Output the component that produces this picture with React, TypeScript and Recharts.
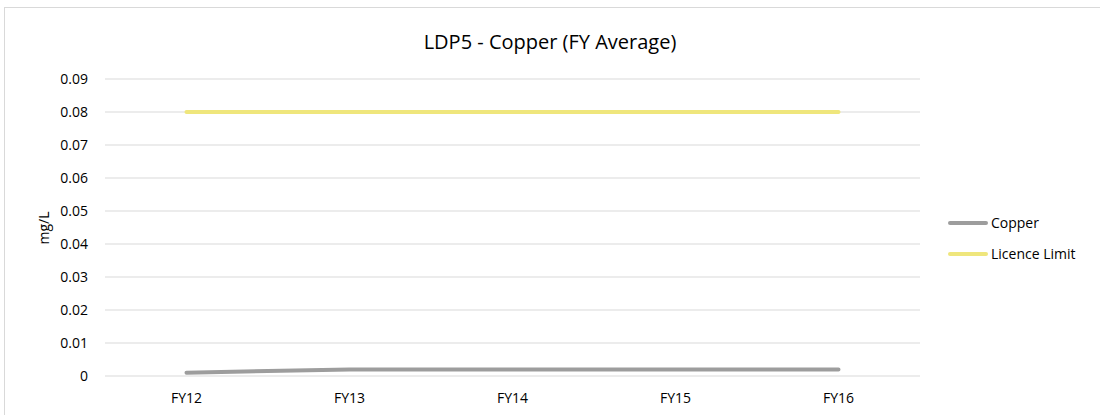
import { CartesianGrid, Label, Line, LineChart, XAxis, YAxis } from "recharts";

const years = ["FY12", "FY13", "FY14", "FY15", "FY16"];
const copper = [0.001, 0.002, 0.002, 0.002, 0.002];
const licenceLimit = [0.08, 0.08, 0.08, 0.08, 0.08];
const yTicks = [0, 0.01, 0.02, 0.03, 0.04, 0.05, 0.06, 0.07, 0.08, 0.09];

const data = years.map((fy, i) => ({
  fy,
  copper: copper[i],
  limit: licenceLimit[i],
}));

const FONT = "'Open Sans', sans-serif";
const COPPER = "#9d9d9d";
const LIMIT = "#efe67c";

// plot area spans 105..920 horizontally, half a category band of padding each side
const BAND_PAD = 81.5;

function LegendBox() {
  const items = [
    { label: "Copper", color: COPPER },
    { label: "Licence Limit", color: LIMIT },
  ];
  return (
    <div style={{ fontFamily: FONT, fontSize: 14, color: "#000" }}>
      {items.map((it) => (
        <div
          key={it.label}
          style={{ display: "flex", alignItems: "center", height: 31 }}
        >
          <span
            style={{
              display: "inline-block",
              width: 40,
              height: 4,
              borderRadius: 2,
              background: it.color,
              marginRight: 3,
            }}
          />
          <span>{it.label}</span>
        </div>
      ))}
    </div>
  );
}

export default function App() {
  return (
    <div
      style={{
        position: "fixed",
        left: 0,
        top: 0,
        width: 1100,
        height: 415,
        overflow: "hidden",
        background: "#fff",
      }}
    >
      {/* chart frame, runs off the right and bottom edge */}
      <div
        style={{
          position: "absolute",
          left: 4,
          top: 7,
          width: 1200,
          height: 500,
          border: "1px solid #d9d9d9",
        }}
      />
      <div
        style={{
          position: "absolute",
          left: 0,
          top: 28,
          width: 1100,
          textAlign: "center",
          fontFamily: FONT,
          fontSize: 20,
          color: "#000",
        }}
      >
        LDP5 - Copper (FY Average)
      </div>
      <div style={{ position: "absolute", left: 0, top: 0 }}>
        <LineChart
          width={1100}
          height={415}
          data={data}
          margin={{ top: 79, right: 180, bottom: 9, left: 0 }}
        >
          <CartesianGrid vertical={false} stroke="#d9d9d9" />
          <XAxis
            dataKey="fy"
            axisLine={false}
            tickLine={false}
            tickSize={0}
            tickMargin={17}
            height={30}
            padding={{ left: BAND_PAD, right: BAND_PAD }}
            tick={{ fill: "#000", fontSize: 14, fontFamily: FONT }}
          />
          <YAxis
            width={105}
            domain={[0, 0.09]}
            ticks={yTicks}
            interval={0}
            axisLine={false}
            tickLine={false}
            tickSize={0}
            tickMargin={17}
            tick={{ fill: "#000", fontSize: 14, fontFamily: FONT }}
          >
            <Label
              content={() => (
                <text
                  x={43}
                  y={228}
                  transform="rotate(-90 43 228)"
                  textAnchor="middle"
                  dominantBaseline="central"
                  fontFamily={FONT}
                  fontSize={14}
                  fill="#000"
                >
                  mg/L
                </text>
              )}
            />
          </YAxis>
          <Line
            dataKey="copper"
            name="Copper"
            stroke={COPPER}
            strokeWidth={4}
            strokeLinecap="round"
            dot={false}
            activeDot={false}
            isAnimationActive={false}
          />
          <Line
            dataKey="limit"
            name="Licence Limit"
            stroke={LIMIT}
            strokeWidth={4}
            strokeLinecap="round"
            dot={false}
            activeDot={false}
            isAnimationActive={false}
          />
        </LineChart>
      </div>
      <div style={{ position: "absolute", left: 948, top: 207 }}>
        <LegendBox />
      </div>
    </div>
  );
}
